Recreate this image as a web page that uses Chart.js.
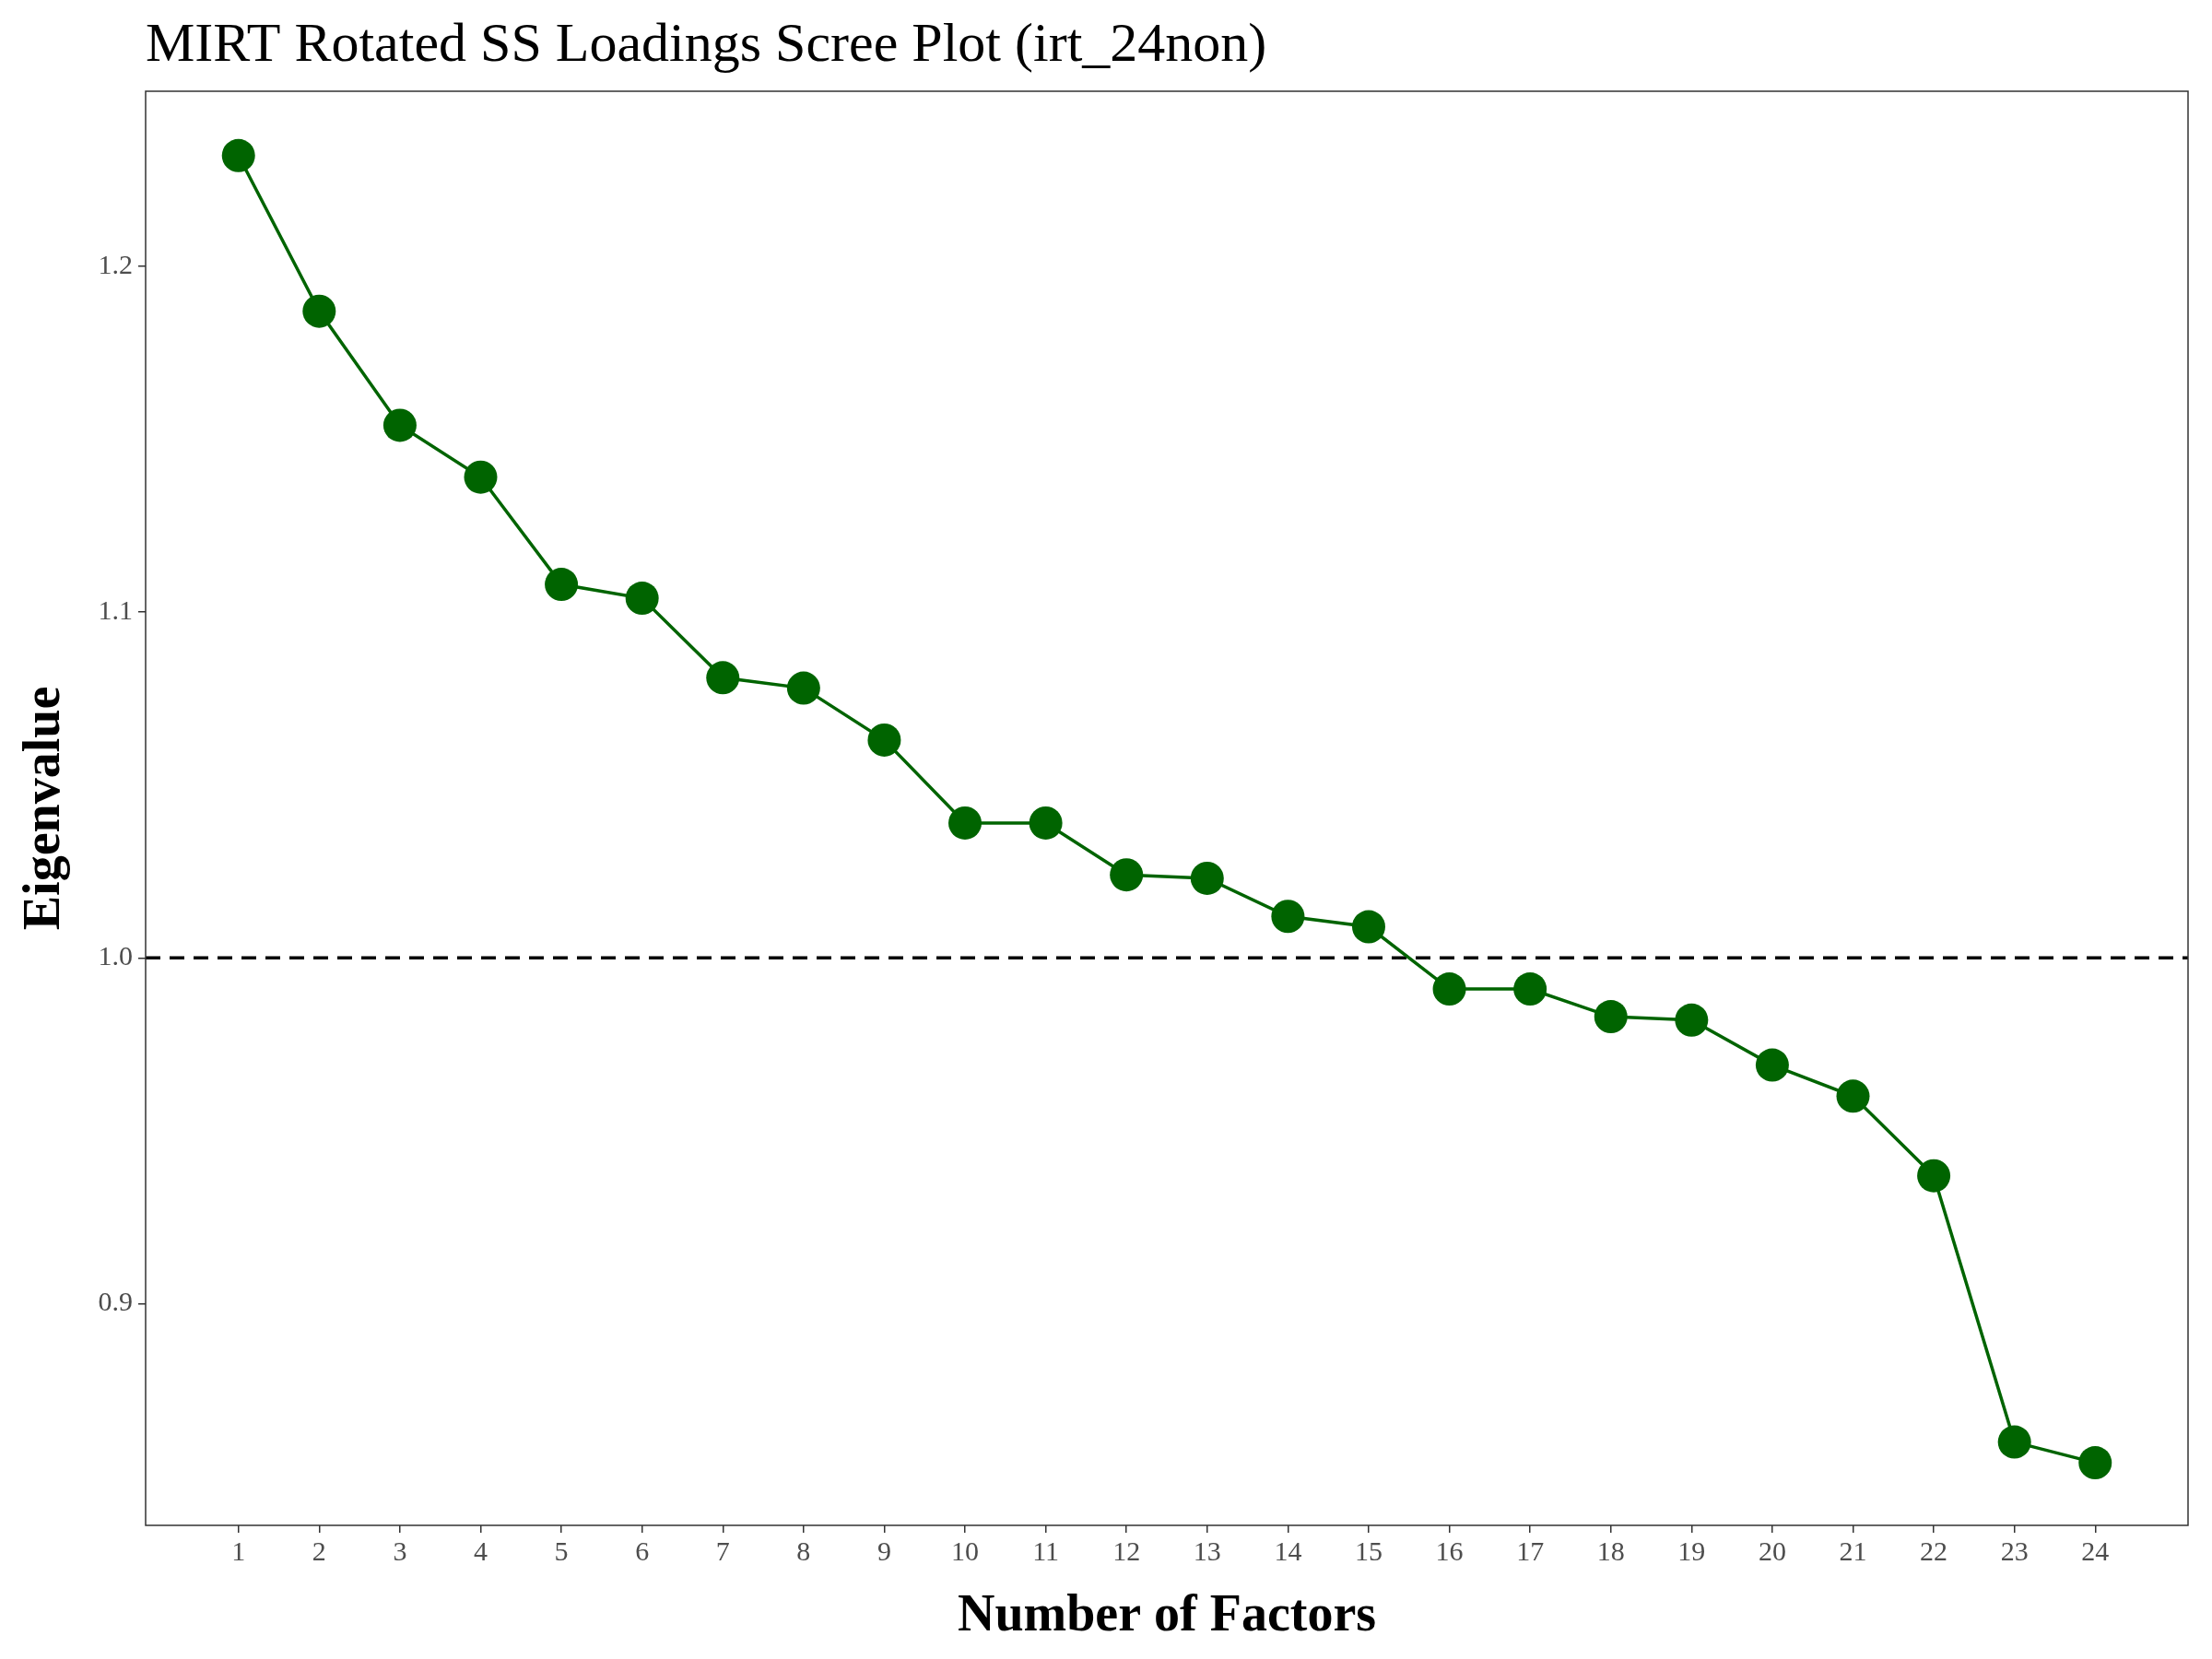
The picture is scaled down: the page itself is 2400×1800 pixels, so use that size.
<!DOCTYPE html>
<html><head><meta charset="utf-8">
<script src="https://cdn.jsdelivr.net/npm/chart.js@4"></script>
<style>html,body{margin:0;padding:0;background:#fff}#w{width:2400px;height:1800px}</style>
</head><body><div id="w"><canvas id="c" width="2400" height="1800"></canvas></div>
<script>
const factors = [1,2,3,4,5,6,7,8,9,10,11,12,13,14,15,16,17,18,19,20,21,22,23,24];
const eigenvalues = [1.232,1.187,1.154,1.139,1.108,1.104,1.081,1.078,1.063,1.039,1.039,1.024,1.023,1.012,1.009,0.991,0.991,0.983,0.982,0.969,0.960,0.937,0.860,0.854];
const yTicks = [0.9,1.0,1.1,1.2];
const refLine = 1.0;
const titleText = 'MIRT Rotated SS Loadings Scree Plot (irt_24non)';
const F = 'Liberation Serif, Times New Roman, serif';

const extras = {
  id:'extras',
  beforeDatasetsDraw(ch){
    const {ctx,chartArea:a,scales:{y}}=ch;
    ctx.save();
    ctx.strokeStyle='#000';ctx.lineWidth=3.5;ctx.setLineDash([16,10]);
    const py=y.getPixelForValue(refLine);
    ctx.beginPath();ctx.moveTo(a.left,py);ctx.lineTo(a.right,py);ctx.stroke();
    ctx.restore();
  },
  afterDraw(ch){
    const {ctx,chartArea:a}=ch;
    ctx.save();
    ctx.strokeStyle='#333';ctx.lineWidth=1.5;
    ctx.strokeRect(a.left,a.top,a.right-a.left,a.bottom-a.top);
    ctx.fillStyle='#000';ctx.font='60px '+F;ctx.textBaseline='alphabetic';ctx.textAlign='left';
    ctx.fillText(titleText,a.left,66);
    ctx.restore();
  }
};

new Chart(document.getElementById('c'),{
  type:'line',
  data:{datasets:[{data:factors.map((f,i)=>({x:f,y:eigenvalues[i]})),borderColor:'#006400',backgroundColor:'#006400',borderWidth:3.5,pointRadius:18,pointHoverRadius:18,pointBorderWidth:0,tension:0}]},
  options:{
    responsive:false,animation:false,
    layout:{padding:{top:99,right:26,left:12,bottom:0}},
    plugins:{legend:{display:false},title:{display:false},tooltip:{enabled:false}},
    scales:{
      x:{type:'linear',min:-0.15,max:25.15,
        afterBuildTicks(s){s.ticks=factors.map(v=>({value:v}));},
        afterFit(s){s.height=145;},
        ticks:{autoSkip:false,maxRotation:0,color:'#4d4d4d',font:{family:F,size:30},padding:4,callback:v=>String(v)},
        grid:{drawOnChartArea:false,tickLength:8,color:'#333',lineWidth:1.5},
        border:{display:false},
        title:{display:true,text:'Number of Factors',color:'#000',font:{family:F,size:56,weight:'bold'},padding:{top:0,bottom:12}}
      },
      y:{type:'linear',min:0.8359,max:1.2506,
        afterBuildTicks(s){s.ticks=yTicks.map(v=>({value:v}));},
        afterFit(s){s.width=146;},
        ticks:{color:'#4d4d4d',font:{family:F,size:30},padding:6,callback:v=>v.toFixed(1)},
        grid:{drawOnChartArea:false,tickLength:8,color:'#333',lineWidth:1.5},
        border:{display:false},
        title:{display:true,text:'Eigenvalue',color:'#000',font:{family:F,size:56,weight:'bold'},padding:{bottom:4}}
      }
    }
  },
  plugins:[extras]
});
</script></body></html>
